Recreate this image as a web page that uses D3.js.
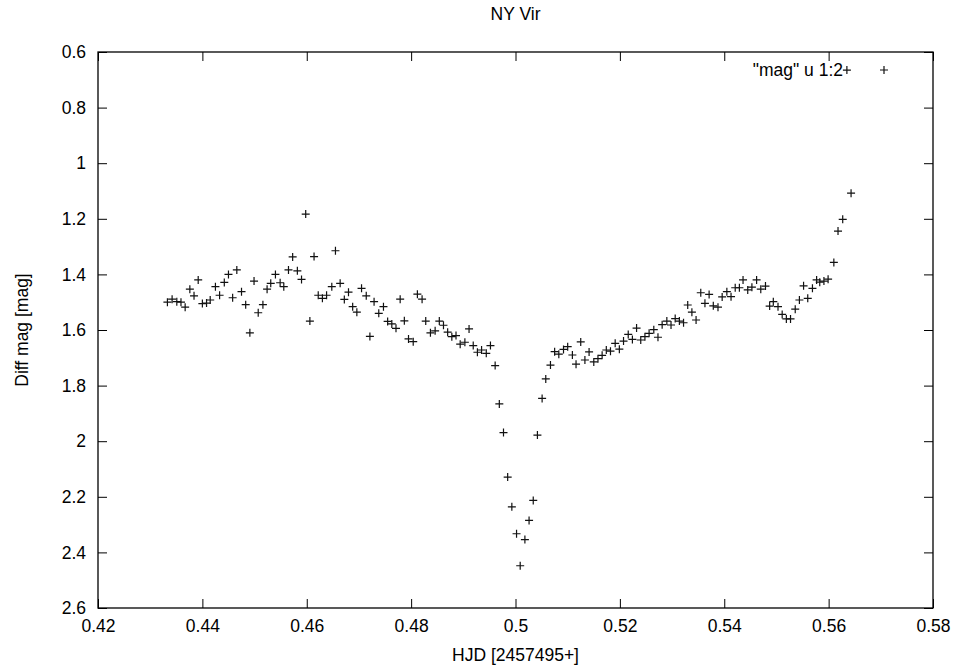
<html>
<head>
<meta charset="utf-8">
<script src="https://cdn.jsdelivr.net/npm/d3@7"></script>
<style>
  body { margin: 0; background: #fff; }
  text { font-family: "Liberation Sans", Arial, sans-serif; fill: #000; }
</style>
</head>
<body>
<div id="chartContainer"></div>
<script type="text/javascript">

  // HJD - 2457495 (days)
  var hjd = [0.4333, 0.4342, 0.4351, 0.4359, 0.4367, 0.4376, 0.4384, 0.4392, 0.4400, 0.4408,
             0.4415, 0.4425, 0.4433, 0.4442, 0.4450, 0.4458, 0.4466, 0.4475, 0.4483, 0.4491,
             0.4499, 0.4507, 0.4516, 0.4524, 0.4531, 0.4540, 0.4549, 0.4556, 0.4565, 0.4573,
             0.4582, 0.4590, 0.4598, 0.4606, 0.4614, 0.4622, 0.4630, 0.4638, 0.4648, 0.4655,
             0.4664, 0.4672, 0.4680, 0.4688, 0.4696, 0.4705, 0.4714, 0.4721, 0.4729, 0.4738,
             0.4747, 0.4755, 0.4763, 0.4771, 0.4779, 0.4787, 0.4795, 0.4804, 0.4812, 0.4821,
             0.4828, 0.4837, 0.4846, 0.4854, 0.4862, 0.4870, 0.4878, 0.4886, 0.4894, 0.4903,
             0.4911, 0.4919, 0.4927, 0.4935, 0.4944, 0.4952, 0.4961, 0.4969, 0.4977, 0.4985,
             0.4993, 0.5002, 0.5009, 0.5018, 0.5026, 0.5034, 0.5042, 0.5051, 0.5058, 0.5067,
             0.5075, 0.5083, 0.5092, 0.5100, 0.5109, 0.5116, 0.5125, 0.5133, 0.5141, 0.5150,
             0.5158, 0.5166, 0.5174, 0.5182, 0.5191, 0.5199, 0.5207, 0.5216, 0.5224, 0.5232,
             0.5240, 0.5248, 0.5256, 0.5265, 0.5273, 0.5281, 0.5290, 0.5298, 0.5306, 0.5314,
             0.5322, 0.5330, 0.5338, 0.5346, 0.5355, 0.5363, 0.5371, 0.5379, 0.5388, 0.5396,
             0.5405, 0.5413, 0.5421, 0.5429, 0.5436, 0.5445, 0.5453, 0.5462, 0.5470, 0.5479,
             0.5487, 0.5494, 0.5503, 0.5511, 0.5519, 0.5527, 0.5536, 0.5544, 0.5552, 0.5560,
             0.5569, 0.5577, 0.5583, 0.5591, 0.5599, 0.5610, 0.5618, 0.5627, 0.5635, 0.5643];

  // differential magnitude
  var mag = [1.500, 1.489, 1.498, 1.500, 1.518, 1.453, 1.477, 1.420, 1.505, 1.503,
             1.492, 1.444, 1.475, 1.429, 1.400, 1.484, 1.384, 1.462, 1.509, 1.610,
             1.424, 1.538, 1.509, 1.453, 1.432, 1.400, 1.430, 1.444, 1.384, 1.337,
             1.387, 1.418, 1.183, 1.568, 1.336, 1.475, 1.486, 1.475, 1.444, 1.315,
             1.432, 1.490, 1.464, 1.516, 1.536, 1.450, 1.477, 1.623, 1.498, 1.540,
             1.516, 1.569, 1.578, 1.594, 1.489, 1.567, 1.632, 1.642, 1.471, 1.489,
             1.568, 1.610, 1.603, 1.568, 1.583, 1.608, 1.624, 1.620, 1.651, 1.644,
             1.596, 1.656, 1.680, 1.672, 1.684, 1.656, 1.728, 1.866, 1.969, 2.129,
             2.236, 2.333, 2.448, 2.354, 2.285, 2.213, 1.978, 1.846, 1.776, 1.726,
             1.678, 1.687, 1.670, 1.660, 1.690, 1.723, 1.643, 1.708, 1.679, 1.715,
             1.703, 1.691, 1.672, 1.676, 1.648, 1.669, 1.640, 1.616, 1.634, 1.593,
             1.636, 1.624, 1.612, 1.599, 1.626, 1.581, 1.568, 1.582, 1.559, 1.568,
             1.574, 1.510, 1.536, 1.564, 1.466, 1.504, 1.472, 1.513, 1.518, 1.481,
             1.462, 1.480, 1.448, 1.448, 1.420, 1.456, 1.446, 1.420, 1.453, 1.442,
             1.514, 1.498, 1.516, 1.544, 1.560, 1.560, 1.525, 1.492, 1.441, 1.486,
             1.450, 1.420, 1.428, 1.424, 1.417, 1.357, 1.244, 1.202, 0.665, 1.108];

  var xTicks = [0.42, 0.44, 0.46, 0.48, 0.5, 0.52, 0.54, 0.56, 0.58];
  var yTicks = [0.6, 0.8, 1, 1.2, 1.4, 1.6, 1.8, 2, 2.2, 2.4, 2.6];

  var width = 956, height = 666;
  var pLeft = 98, pRight = 933, pTop = 52, pBottom = 608;
  var tickLen = 9;
  var fontSize = '17.5px';

  var svg = d3.select('#chartContainer')
    .append('svg')
    .attr('width', width)
    .attr('height', height);

  var x = d3.scaleLinear().domain([0.42, 0.58]).range([pLeft, pRight]);
  // magnitudes: brighter is up
  var y = d3.scaleLinear().domain([0.6, 2.6]).range([pTop, pBottom]);

  // gnuplot style: ticks inward on all four sides
  svg.append('g')
    .attr('transform', 'translate(0,' + pBottom + ')')
    .call(d3.axisBottom(x).tickValues(xTicks).tickSize(-tickLen).tickPadding(12).tickFormat(d3.format('')))
    .call(function(g) { g.select('.domain').remove(); });
  svg.append('g')
    .attr('transform', 'translate(0,' + pTop + ')')
    .call(d3.axisTop(x).tickValues(xTicks).tickSize(-tickLen).tickFormat(''))
    .call(function(g) { g.select('.domain').remove(); });
  svg.append('g')
    .attr('transform', 'translate(' + pLeft + ',0)')
    .call(d3.axisLeft(y).tickValues(yTicks).tickSize(-tickLen).tickPadding(12).tickFormat(d3.format('')))
    .call(function(g) { g.select('.domain').remove(); });
  svg.append('g')
    .attr('transform', 'translate(' + pRight + ',0)')
    .call(d3.axisRight(y).tickValues(yTicks).tickSize(-tickLen).tickFormat(''))
    .call(function(g) { g.select('.domain').remove(); });

  svg.selectAll('.tick line').attr('stroke', '#000').attr('stroke-width', 1);
  svg.selectAll('.tick text')
    .attr('font-size', fontSize)
    .attr('font-family', '"Liberation Sans", Arial, sans-serif')
    .attr('fill', '#000');

  // border
  svg.append('rect')
    .attr('x', pLeft).attr('y', pTop)
    .attr('width', pRight - pLeft).attr('height', pBottom - pTop)
    .attr('fill', 'none').attr('stroke', '#000').attr('stroke-width', 1.3);

  // plus markers
  function plus(px, py, s) {
    return 'M' + (px - s) + ',' + py + 'H' + (px + s) + 'M' + px + ',' + (py - s) + 'V' + (py + s);
  }

  svg.append('g').selectAll('path')
    .data(d3.range(hjd.length))
    .enter()
    .append('path')
    .attr('d', function(i) { return plus(x(hjd[i]), y(mag[i]), 4); })
    .attr('stroke', '#111')
    .attr('stroke-width', 1.2)
    .attr('fill', 'none');

  // key
  svg.append('text')
    .attr('x', 843).attr('y', 76)
    .attr('text-anchor', 'end')
    .attr('font-size', fontSize)
    .text('"mag" u 1:2');
  svg.append('path')
    .attr('d', plus(884, 70, 4))
    .attr('stroke', '#111').attr('stroke-width', 1.2);

  // titles
  svg.append('text')
    .attr('x', (pLeft + pRight) / 2).attr('y', 20)
    .attr('text-anchor', 'middle')
    .attr('font-size', fontSize)
    .text('NY Vir');
  svg.append('text')
    .attr('x', (pLeft + pRight) / 2).attr('y', 661)
    .attr('text-anchor', 'middle')
    .attr('font-size', fontSize)
    .text('HJD [2457495+]');
  svg.append('text')
    .attr('transform', 'translate(28,' + (pTop + pBottom) / 2 + ') rotate(-90)')
    .attr('text-anchor', 'middle')
    .attr('font-size', fontSize)
    .text('Diff mag [mag]');

</script>
</body>
</html>
